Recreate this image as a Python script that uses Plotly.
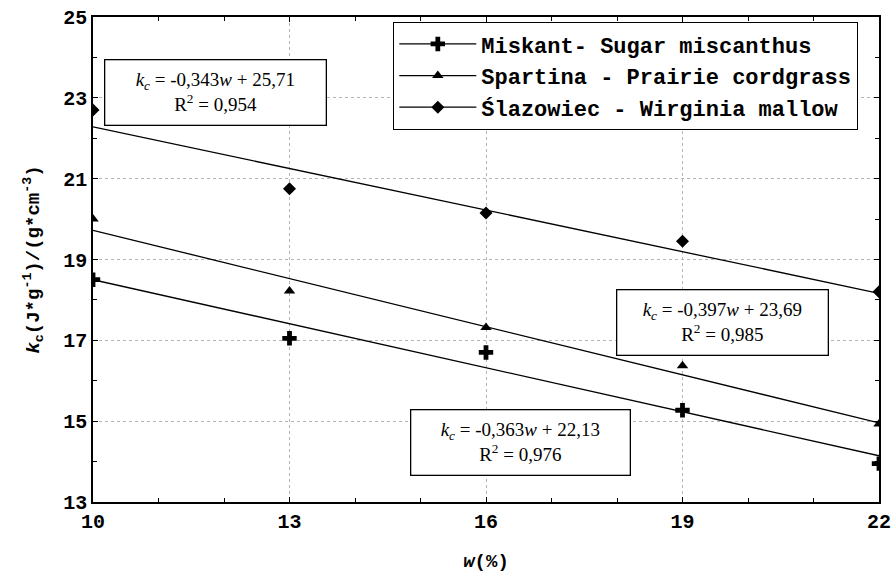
import plotly.graph_objects as go

# ---- data ----
w = [10, 13, 16, 19, 22]
miskant = [18.5, 17.05, 16.7, 15.27, 13.95]
spartina = [20.0, 18.22, 17.32, 16.37, 14.93]
slazowiec = [22.7, 20.75, 20.15, 19.45, 18.2]

series_names = ["Miskant- Sugar miscanthus",
                "Spartina - Prairie cordgrass",
                "Ślazowiec - Wirginia mallow"]
slopes = [-0.363, -0.397, -0.343]
intercepts = [22.13, 23.69, 25.71]
r2 = ["0,976", "0,985", "0,954"]
eq_text = ["-0,363", "-0,397", "-0,343"]
int_text = ["22,13", "23,69", "25,71"]
fit_range = [10, 22]

x_ticks = [10, 13, 16, 19, 22]
y_ticks = [13, 15, 17, 19, 21, 23, 25]

symbols = ["cross", "triangle-up", "diamond"]
sizes = [12, 10, 10]
data_all = [miskant, spartina, slazowiec]

MONO = "Liberation Mono, Courier New, monospace"
SERIF = "Liberation Serif, Times New Roman, serif"

fig = go.Figure()
for i in range(3):
    fy = [slopes[i] * x + intercepts[i] for x in fit_range]
    fig.add_trace(go.Scatter(x=fit_range, y=fy, mode="lines",
                             line=dict(color="black", width=1.3),
                             showlegend=False, hoverinfo="skip"))
    fig.add_trace(go.Scatter(x=w, y=data_all[i], mode="markers",
                             marker=dict(symbol=symbols[i], size=sizes[i], color="black"),
                             showlegend=False))
    # legend entry
    fig.add_trace(go.Scatter(x=[None], y=[None], mode="lines+markers",
                             name=series_names[i],
                             marker=dict(symbol=symbols[i], size=sizes[i], color="black"),
                             line=dict(color="black", width=1.3)))

# annotation boxes (x, y centres in data units)
ann_pos = [(16.52, 14.47, 210), (19.61, 17.43, 202), (11.87, 23.12, 212)]
for i in range(3):
    ax, ay, wd = ann_pos[i]
    fig.add_annotation(
        x=ax, y=ay, xref="x", yref="y", showarrow=False,
        text=(f"<i>k</i><sub><i>c</i></sub> = {eq_text[i]}<i>w</i> + {int_text[i]}"
              f"<br>R<sup>2</sup> = {r2[i]}"),
        font=dict(family=SERIF, size=19, color="black"),
        align="center", width=wd, height=56,
        bordercolor="black", borderwidth=1.3, borderpad=4, bgcolor="white")

axis_common = dict(
    showline=True, linecolor="black", linewidth=1.5, mirror="allticks",
    ticks="inside", ticklen=5, tickcolor="black", tickwidth=1,
    showgrid=True, gridcolor="#b5b5b5", griddash="dot", gridwidth=1,
    zeroline=False, automargin=False,
    tickfont=dict(family=MONO, size=20, color="black", weight="bold"),
)

fig.update_xaxes(range=[10, 22], tickmode="array", tickvals=x_ticks,
                 ticktext=[str(v) for v in x_ticks],
                 minor=dict(dtick=1, tick0=10, ticks="inside", ticklen=4,
                            tickcolor="black", showgrid=False),
                 title=dict(text="<b><i>w</i>(%)</b>",
                            font=dict(family=MONO, size=19, color="black"),
                            standoff=21),
                 **axis_common)
fig.update_yaxes(range=[13, 25], tickmode="array", tickvals=y_ticks,
                 ticktext=[str(v) for v in y_ticks],
                 minor=dict(dtick=1, tick0=13, ticks="inside", ticklen=4,
                            tickcolor="black", showgrid=False),
                 title=dict(text="<b><i>k</i><sub>c</sub>(J*g<sup>-1</sup>)/(g*cm<sup>-3</sup>)</b>",
                            font=dict(family=MONO, size=19, color="black"),
                            standoff=19),
                 **axis_common)

fig.update_layout(
    width=896, height=574,
    margin=dict(l=93, r=17, t=17, b=72, autoexpand=False),
    paper_bgcolor="white", plot_bgcolor="white",
    legend=dict(x=0.3817, y=0.99, xanchor="left", yanchor="top",
                bordercolor="black", borderwidth=1.3, bgcolor="white",
                font=dict(family=MONO, size=22, color="black", weight="bold"),
                itemwidth=77, tracegroupgap=0),
    showlegend=True,
)

fig.write_html("out.html")
